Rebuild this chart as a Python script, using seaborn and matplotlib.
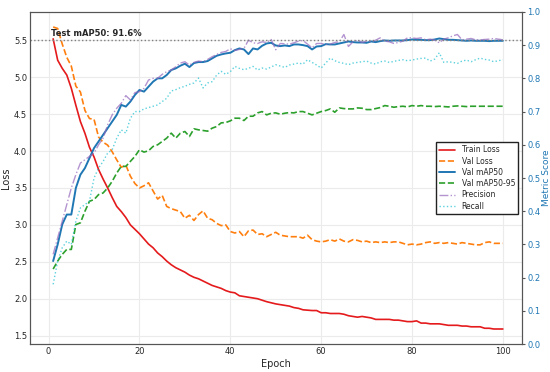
import numpy as np
import pandas as pd
import matplotlib
matplotlib.use("Agg")
import matplotlib.pyplot as plt
import seaborn as sns

# data
epochs = list(range(1, 101))

train_loss = [
    5.52, 5.23, 5.12, 5.03, 4.85, 4.62, 4.40, 4.24, 4.05, 3.92,
    3.75, 3.62, 3.50, 3.37, 3.25, 3.18, 3.10, 3.00, 2.94, 2.88,
    2.81, 2.74, 2.69, 2.62, 2.57, 2.51, 2.46, 2.42, 2.39, 2.36,
    2.32, 2.29, 2.27, 2.24, 2.21, 2.18, 2.16, 2.14, 2.11, 2.09,
    2.08, 2.04, 2.03, 2.02, 2.01, 2.00, 1.98, 1.96, 1.945, 1.93,
    1.92, 1.91, 1.90, 1.88, 1.87, 1.85, 1.845, 1.84, 1.84, 1.81,
    1.81, 1.80, 1.80, 1.80, 1.79, 1.77, 1.76, 1.75, 1.76, 1.75,
    1.74, 1.72, 1.72, 1.72, 1.72, 1.71, 1.71, 1.70, 1.69, 1.69,
    1.70, 1.67, 1.67, 1.66, 1.66, 1.66, 1.65, 1.64, 1.64, 1.64,
    1.63, 1.63, 1.62, 1.62, 1.62, 1.60, 1.60, 1.59, 1.59, 1.59,
]
val_loss = [
    5.68, 5.66, 5.45, 5.27, 5.15, 4.88, 4.80, 4.55, 4.44, 4.43,
    4.19, 4.12, 4.08, 3.99, 3.88, 3.78, 3.81, 3.66, 3.56, 3.50,
    3.53, 3.57, 3.46, 3.35, 3.40, 3.25, 3.22, 3.20, 3.18, 3.09,
    3.13, 3.06, 3.14, 3.19, 3.09, 3.07, 3.02, 2.99, 3.00, 2.91,
    2.89, 2.91, 2.84, 2.92, 2.93, 2.87, 2.88, 2.84, 2.87, 2.90,
    2.86, 2.85, 2.84, 2.84, 2.84, 2.82, 2.86, 2.80, 2.78, 2.77,
    2.78, 2.80, 2.78, 2.81, 2.78, 2.77, 2.80, 2.79, 2.77, 2.78,
    2.76, 2.77, 2.76, 2.77, 2.76, 2.77, 2.77, 2.75, 2.73, 2.74,
    2.73, 2.74, 2.76, 2.77, 2.75, 2.76, 2.75, 2.76, 2.75, 2.74,
    2.76, 2.75, 2.74, 2.73, 2.73, 2.76, 2.77, 2.75, 2.75, 2.75,
]
val_map50 = [
    0.25, 0.30, 0.36, 0.39, 0.39, 0.47, 0.51, 0.53, 0.56, 0.59,
    0.61, 0.63, 0.65, 0.67, 0.69, 0.72, 0.715, 0.73, 0.75, 0.765,
    0.76, 0.775, 0.79, 0.80, 0.80, 0.81, 0.825, 0.83, 0.838, 0.844,
    0.834, 0.846, 0.849, 0.849, 0.852, 0.86, 0.868, 0.872, 0.875, 0.877,
    0.885, 0.89, 0.887, 0.873, 0.89, 0.887, 0.898, 0.905, 0.907, 0.899,
    0.897, 0.899, 0.897, 0.902, 0.902, 0.90, 0.897, 0.887, 0.896, 0.897,
    0.903, 0.902, 0.902, 0.905, 0.908, 0.911, 0.909, 0.908, 0.908, 0.907,
    0.911, 0.909, 0.912, 0.914, 0.913, 0.914, 0.914, 0.914, 0.915, 0.917,
    0.916, 0.916, 0.915, 0.915, 0.917, 0.92, 0.918, 0.916, 0.916, 0.915,
    0.914, 0.913, 0.914, 0.913, 0.913, 0.913, 0.912, 0.913, 0.913, 0.913,
]
val_map50_95 = [
    0.226, 0.25, 0.27, 0.285, 0.285, 0.36, 0.365, 0.40, 0.43, 0.435,
    0.45, 0.455, 0.47, 0.49, 0.515, 0.535, 0.535, 0.55, 0.565, 0.585,
    0.578, 0.582, 0.595, 0.60, 0.61, 0.62, 0.635, 0.62, 0.635, 0.64,
    0.625, 0.648, 0.645, 0.643, 0.641, 0.65, 0.655, 0.666, 0.667, 0.672,
    0.68, 0.68, 0.673, 0.686, 0.686, 0.696, 0.70, 0.69, 0.695, 0.696,
    0.692, 0.695, 0.697, 0.696, 0.70, 0.70, 0.695, 0.69, 0.695, 0.70,
    0.703, 0.708, 0.698, 0.711, 0.709, 0.708, 0.708, 0.711, 0.71, 0.706,
    0.706, 0.709, 0.712, 0.718, 0.716, 0.713, 0.715, 0.716, 0.714, 0.718,
    0.716, 0.718, 0.716, 0.716, 0.715, 0.716, 0.715, 0.714, 0.716, 0.717,
    0.716, 0.715, 0.716, 0.716, 0.716, 0.716, 0.716, 0.716, 0.716, 0.716,
]
precision = [
    0.27, 0.32, 0.37, 0.42, 0.47, 0.51, 0.545, 0.555, 0.565, 0.575,
    0.60, 0.62, 0.66, 0.69, 0.71, 0.725, 0.748, 0.735, 0.757, 0.76,
    0.77, 0.795, 0.80, 0.80, 0.812, 0.82, 0.825, 0.835, 0.846, 0.85,
    0.84, 0.848, 0.852, 0.85, 0.857, 0.865, 0.872, 0.878, 0.881, 0.889,
    0.884, 0.887, 0.89, 0.915, 0.907, 0.905, 0.91, 0.908, 0.917, 0.886,
    0.905, 0.904, 0.903, 0.907, 0.912, 0.914, 0.903, 0.892, 0.905, 0.905,
    0.902, 0.903, 0.908, 0.91, 0.932, 0.896, 0.91, 0.915, 0.908, 0.912,
    0.91, 0.915, 0.922, 0.912, 0.91, 0.905, 0.908, 0.912, 0.922, 0.922,
    0.92, 0.922, 0.916, 0.918, 0.915, 0.907, 0.918, 0.922, 0.928, 0.932,
    0.916, 0.918, 0.92, 0.916, 0.916, 0.917, 0.918, 0.92, 0.918, 0.916,
]
recall = [
    0.18, 0.25, 0.29, 0.31, 0.30, 0.37, 0.41, 0.42, 0.43, 0.50,
    0.53, 0.55, 0.575, 0.585, 0.62, 0.645, 0.635, 0.68, 0.70, 0.70,
    0.708, 0.712, 0.716, 0.72, 0.73, 0.74, 0.762, 0.766, 0.772, 0.776,
    0.782, 0.786, 0.801, 0.771, 0.786, 0.79, 0.81, 0.821, 0.812, 0.82,
    0.836, 0.83, 0.826, 0.83, 0.836, 0.825, 0.831, 0.828, 0.834, 0.841,
    0.837, 0.833, 0.84, 0.843, 0.846, 0.843, 0.856, 0.848, 0.84, 0.831,
    0.846, 0.861, 0.853, 0.848, 0.845, 0.841, 0.846, 0.848, 0.85, 0.852,
    0.846, 0.843, 0.85, 0.852, 0.848, 0.851, 0.854, 0.856, 0.853, 0.855,
    0.858, 0.86, 0.861, 0.852, 0.858, 0.877, 0.848, 0.85, 0.848, 0.845,
    0.852, 0.855, 0.85, 0.856, 0.861, 0.857, 0.855, 0.85, 0.853, 0.856,
]
test_map50 = 0.916

df = pd.DataFrame({
    "epoch": epochs,
    "train_loss": train_loss, "val_loss": val_loss,
    "map50": val_map50, "map50_95": val_map50_95,
    "precision": precision, "recall": recall,
})

sns.set_style("whitegrid", {"grid.color": "#ebebeb", "axes.edgecolor": "#555555"})
plt.rcParams["font.family"] = ["DejaVu Sans"]

fig, ax1 = plt.subplots(figsize=(5.5, 3.72), dpi=100)
fig.subplots_adjust(left=0.0545, right=0.949, bottom=0.075, top=0.968)
ax2 = ax1.twinx()

sns.lineplot(data=df, x="epoch", y="train_loss", ax=ax1, color="#e41a1c", lw=1.2, label="Train Loss")
sns.lineplot(data=df, x="epoch", y="val_loss", ax=ax1, color="#ff7f0e", lw=1.2, ls="--", label="Val Loss")

sns.lineplot(data=df, x="epoch", y="map50", ax=ax2, color="#1f77b4", lw=1.4, label="Val mAP50")
sns.lineplot(data=df, x="epoch", y="map50_95", ax=ax2, color="#2ca02c", lw=1.2, ls="--", label="Val mAP50-95")
sns.lineplot(data=df, x="epoch", y="precision", ax=ax2, color="#9467bd", lw=1.0, ls="-.", alpha=0.7, label="Precision")
sns.lineplot(data=df, x="epoch", y="recall", ax=ax2, color="#17becf", lw=1.0, ls=":", alpha=0.7, label="Recall")

ax2.axhline(test_map50, color="gray", ls=":", lw=1.0)
ax2.text(0.5, test_map50 + 0.006, f"Test mAP50: {test_map50*100:.1f}%",
         fontsize=6, fontweight="bold", va="bottom", ha="left")

ax2.set_ylim(0, 1.0)
ax2.set_yticks(np.arange(0, 1.01, 0.1))
ax2.grid(False)
ax1.set_xlim(-4.1, 104.2)

ax1.set_xlabel("Epoch", fontsize=7, labelpad=2)
ax1.set_ylabel("Loss", fontsize=7, labelpad=2)
ax2.set_ylabel("Metric Score", fontsize=6.5, color="#1f77b4", labelpad=1)
ax1.tick_params(labelsize=6, pad=2, length=0)
ax2.tick_params(axis="y", labelsize=6, labelcolor="#1f77b4", pad=1.5, length=2.5,
                color="#555555", width=0.8)

h1, l1 = ax1.get_legend_handles_labels()
h2, l2 = ax2.get_legend_handles_labels()
ax1.get_legend().remove()
ax2.legend(h1 + h2, l1 + l2, loc="center right", fontsize=5.5, frameon=True,
           fancybox=False, edgecolor="#222222", framealpha=1.0, handlelength=2.2,
           borderpad=0.4, labelspacing=0.3)

plt.savefig("out.png", dpi=100)
